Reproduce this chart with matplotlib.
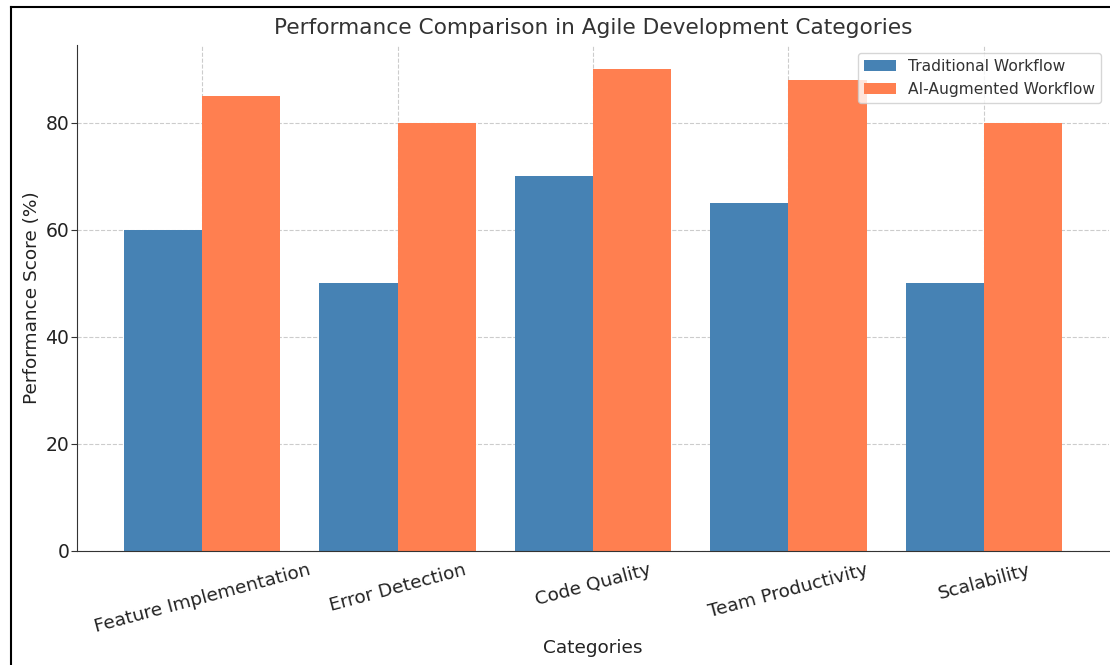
import numpy as np
import matplotlib.pyplot as plt
from matplotlib.lines import Line2D

# data
categories = ['Feature Implementation', 'Error Detection', 'Code Quality',
              'Team Productivity', 'Scalability']
traditional = [60, 50, 70, 65, 50]
ai_augmented = [85, 80, 90, 88, 80]

W, H = 1110, 665
fig = plt.figure(figsize=(W / 100, H / 100), dpi=100)
ax = fig.add_axes([77 / W, 1 - 551 / H, 1032 / W, (551 - 45) / H])

x = np.arange(len(categories))
width = 0.4
ax.bar(x - width / 2, traditional, width, label='Traditional Workflow', color='#4682B4')
ax.bar(x + width / 2, ai_augmented, width, label='AI-Augmented Workflow', color='#FF7F50')

ax.set_title('Performance Comparison in Agile Development Categories',
             fontsize=15.6, color='#333333', pad=8)
ax.set_xlabel('Categories', fontsize=13.3, color='#222222', labelpad=2)
ax.set_ylabel('Performance Score (%)', fontsize=13.3, color='#222222', labelpad=3)
ax.set_xticks(x)
ax.set_xticklabels(categories, rotation=15, ha='center', fontsize=13.3, color='#222222')
ax.tick_params(axis='y', labelsize=13.5, labelcolor='#222222', length=4, pad=1.5,
               color='#333333')
ax.tick_params(axis='x', direction='in', length=3, color='#333333', pad=7)
ax.set_yticks([0, 20, 40, 60, 80])

ax.grid(True, linestyle='--', color='#cccccc', linewidth=0.8)
ax.set_axisbelow(True)
for s in ['top', 'right']:
    ax.spines[s].set_visible(False)
for s in ['left', 'bottom']:
    ax.spines[s].set_color('#333333')

ax.legend(loc='upper right', fontsize=11.2, labelcolor='#333333', framealpha=0.8)

# frame of the cropped screenshot
fig.add_artist(Line2D([11 / W, 11 / W], [-0.1, 1 - 6.5 / H], color='black', linewidth=1.5,
                      transform=fig.transFigure))
fig.add_artist(Line2D([11 / W, 1.1], [1 - 6.5 / H, 1 - 6.5 / H], color='black', linewidth=1.5,
                      transform=fig.transFigure))

fig.savefig('out.png', dpi=100)
